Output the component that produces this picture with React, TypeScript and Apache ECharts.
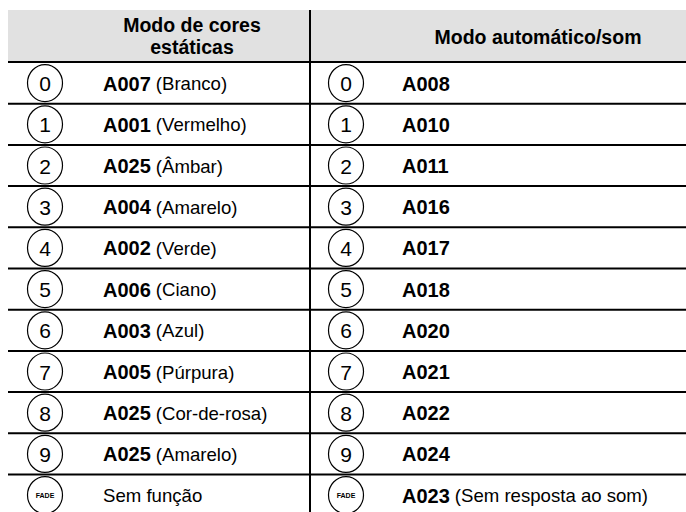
import React, { useEffect, useRef } from "react";
import * as echarts from "echarts";

const headerLeft = ["Modo de cores", "estáticas"];
const headerRight = "Modo automático/som";
const keys = ["0", "1", "2", "3", "4", "5", "6", "7", "8", "9", "FADE"];
const leftCodes = ["A007", "A001", "A025", "A004", "A002", "A006", "A003", "A005", "A025", "A025", ""];
const leftNames = ["(Branco)", "(Vermelho)", "(Âmbar)", "(Amarelo)", "(Verde)", "(Ciano)", "(Azul)", "(Púrpura)", "(Cor-de-rosa)", "(Amarelo)", "Sem função"];
const rightCodes = ["A008", "A010", "A011", "A016", "A017", "A018", "A020", "A021", "A022", "A024", "A023"];
const rightNames = ["", "", "", "", "", "", "", "", "", "", "(Sem resposta ao som)"];

const FONT = "Liberation Sans, Arial, Helvetica, sans-serif";

export default function App() {
  const ref = useRef<HTMLDivElement>(null);
  useEffect(() => {
    document.body.style.margin = "0";
    const chart = echarts.init(ref.current!, null, { renderer: "svg" });
    const W = 686;
    const left = 8;
    const headTop = 10;
    const headBot = 62;
    const rowH = 41.2;
    const divX = 310;
    const els: any[] = [];
    els.push({ type: "rect", shape: { x: left, y: headTop, width: W - left, height: headBot - headTop }, style: { fill: "#e1e1e1" } });
    els.push({ type: "text", x: 192, y: 25, style: { text: headerLeft[0], font: `bold 19.5px ${FONT}`, fill: "#000", align: "center", verticalAlign: "middle" } });
    els.push({ type: "text", x: 192, y: 47, style: { text: headerLeft[1], font: `bold 19.5px ${FONT}`, fill: "#000", align: "center", verticalAlign: "middle" } });
    els.push({ type: "text", x: 538, y: 37, style: { text: headerRight, font: `bold 19.5px ${FONT}`, fill: "#000", align: "center", verticalAlign: "middle" } });
    const rich = {
      b: { fontWeight: "bold", fontSize: 20, fontFamily: FONT, color: "#000" },
      r: { fontWeight: "normal", fontSize: 18.6, fontFamily: FONT, color: "#000" },
      rs: { fontWeight: "normal", fontSize: 18.6, fontFamily: FONT, color: "#000", padding: [0, 0, 0, 5] },
    };
    const mk = (code: string, name: string) => {
      if (code && name) return `{b|${code}}{rs|${name}}`;
      if (code) return `{b|${code}}`;
      return `{r|${name}}`;
    };
    keys.forEach((k, i) => {
      const top = headBot + 1 + i * rowH;
      const cy = top + rowH / 2 - 0.5;
      if (i > 0) {
        els.push({ type: "line", shape: { x1: left, y1: top - 0.5, x2: W, y2: top - 0.5 }, style: { stroke: "#000", lineWidth: 2 } });
      }
      [45, 346].forEach((cx) => {
        els.push({ type: "ellipse", shape: { cx, cy, rx: 17.5, ry: 18.5 }, style: { fill: "#fff", stroke: "#000", lineWidth: 1.2 } });
        els.push({
          type: "text", x: cx, y: cy + 0.5,
          style: k === "FADE"
            ? { text: k, font: `bold 7px ${FONT}`, fill: "#000", align: "center", verticalAlign: "middle" }
            : { text: k, font: `21px ${FONT}`, fill: "#000", align: "center", verticalAlign: "middle" },
        });
      });
      els.push({ type: "text", x: 103, y: cy + 0.5, style: { text: mk(leftCodes[i], leftNames[i]), rich, align: "left", verticalAlign: "middle" } });
      els.push({ type: "text", x: 402, y: cy + 0.5, style: { text: mk(rightCodes[i], rightNames[i]), rich, align: "left", verticalAlign: "middle" } });
    });
    els.push({ type: "line", shape: { x1: left, y1: headBot, x2: W, y2: headBot }, style: { stroke: "#000", lineWidth: 2 } });
    els.push({ type: "line", shape: { x1: divX, y1: headTop, x2: divX, y2: 512 }, style: { stroke: "#000", lineWidth: 2 } });
    chart.setOption({ animation: false, backgroundColor: "#fff", graphic: { elements: els } });
    return () => chart.dispose();
  }, []);
  return <div ref={ref} style={{ width: 686, height: 512, position: "absolute", left: 0, top: 0 }} />;
}
